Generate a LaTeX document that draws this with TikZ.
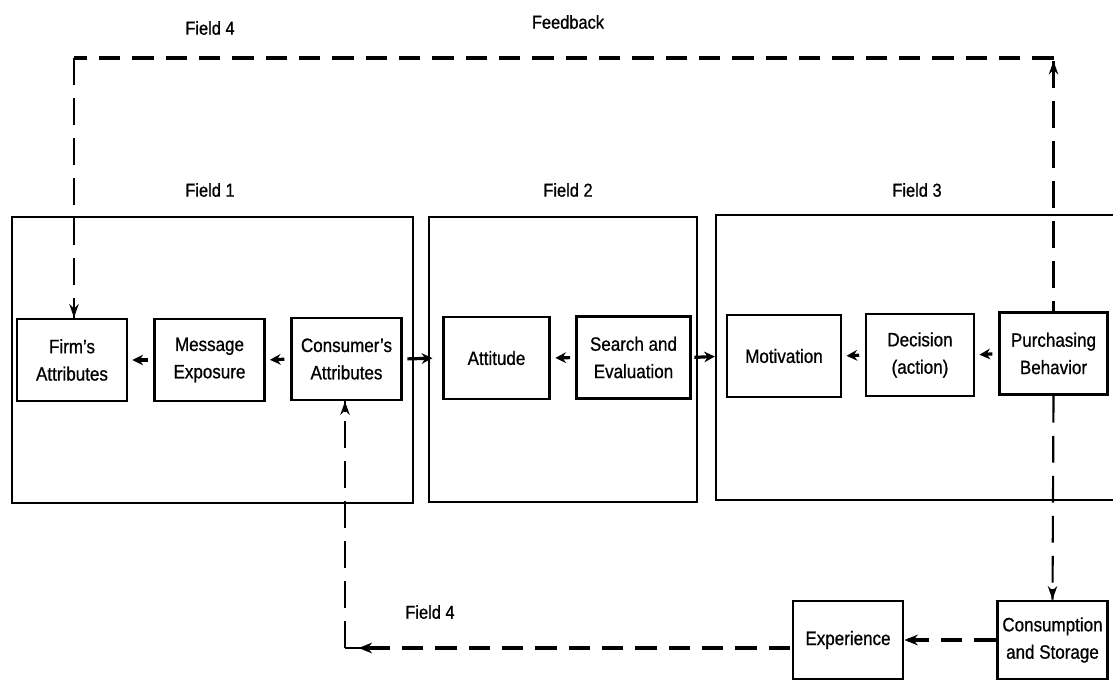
\documentclass[tikz,border=0pt]{standalone}
\usepackage{fontspec}
\setmainfont{Liberation Sans}[FakeStretch=0.88,FakeBold=0.8]
\usetikzlibrary{arrows.meta}
\begin{document}
\begin{tikzpicture}[x=0.75pt,y=-0.75pt,
  box/.style={draw, line width=2.2pt, align=center, inner sep=1pt,
    minimum width=82.5pt, minimum height=61.5pt,
    font=\fontsize{14.5}{20.5}\selectfont},
  lbl/.style={font=\fontsize{14}{16}\selectfont, inner sep=0pt},
  field/.style={draw, line width=1.5pt},
  thickdash/.style={line width=2.8pt, dash pattern=on 16pt off 9pt},
  thindash/.style={line width=1.6pt, dash pattern=on 20pt off 10pt},
  headthick/.style={line width=2.8pt, -{Stealth[length=10pt,width=8pt]}},
  headthin/.style={line width=1.6pt, -{Stealth[length=10pt,width=7pt]}},
  sarr/.style={line width=2.4pt, -{Stealth[length=8pt,width=8pt]}}]
\useasboundingbox (0,0) rectangle (1113,681);
\clip (0,0) rectangle (1113,681);
\fill[white] (0,0) rectangle (1113,681);

% field frames
\draw[field] (12,217) rectangle (413,503);
\draw[field] (429,217) rectangle (697,502);
\draw[field] (716,215) rectangle (1130,500);

% labels
\node[lbl] (f4top) at (210,28) {Field 4};
\node[lbl] (fb) at (568,22) {Feedback};
\node[lbl] (f1) at (210,190) {Field 1};
\node[lbl] (f2) at (568,190) {Field 2};
\node[lbl] (f3) at (917,190) {Field 3};
\node[lbl] (f4bot) at (430,612) {Field 4};

% boxes
\node[box] (firm) at (72,360) {Firm's\\Attributes};
\node[box] (msg) at (209.5,360) {Message\\Exposure};
\node[box, minimum width=83pt] (cons) at (346.5,359) {Consumer's\\Attributes};
\node[box, minimum width=80pt] (att) at (496.5,358) {Attitude};
\node[box, minimum width=85pt] (search) at (633.5,357.5) {Search and\\Evaluation};
\node[box, minimum width=85.5pt] (mot) at (784,356) {Motivation};
\node[box, minimum width=81pt] (dec) at (920,355) {Decision\\(action)};
\node[box, minimum width=81.5pt] (purch) at (1053.5,353.5) {Purchasing\\Behavior};
\node[box, minimum width=82.5pt, minimum height=58.5pt] (exp) at (848,640) {Experience};
\node[box, minimum width=83pt, minimum height=58.5pt] (cst) at (1052.5,640) {Consumption\\and Storage};

% short arrows
\draw[sarr, shorten <=4pt, shorten >=3pt] (msg.west) -- (firm.east);
\draw[sarr, shorten <=4pt, shorten >=3pt] (cons.west) -- (msg.east);
\draw[sarr, shorten <=3pt, shorten >=7pt] (cons.east) -- (att.west);
\draw[sarr, shorten <=4pt, shorten >=3pt] (search.west) -- (att.east);
\draw[sarr, shorten <=2pt, shorten >=8pt] (search.east) -- (mot.west);
\draw[sarr, shorten <=4pt, shorten >=3pt] (dec.west) -- (mot.east);
\draw[sarr, shorten <=4pt, shorten >=3pt] (purch.west) -- (dec.east);

% feedback loop
\coordinate (tr) at (1053.5,58);
\coordinate (tl) at (74,58);
\coordinate (bl) at (345,648);
\coordinate (bm) at (372,648);
\coordinate (er) at (790,648);
\coordinate (trh) at (1053.5,61);
% up from Purchasing Behavior
\draw[thindash] (trh) -- (purch.north);
\draw[headthin] ([yshift=-8pt]trh) -- (trh);
% top line
\draw[thickdash] (tr) -- (tl);
% down to Firm's Attributes
\draw[thindash] (tl) -- (tl |- firm.north);
\draw[headthin] ([yshift=8pt]tl |- firm.north) -- (tl |- firm.north);
% down to Consumption and Storage
\draw[thindash] (purch.south) -- (cst.north);
\draw[headthin] ([yshift=8pt]cst.north) -- (cst.north);
% Consumption -> Experience
\draw[thickdash] (cst.west) -- (exp.east);
\draw[headthick] ([xshift=14pt]exp.east) -- (exp.east);
% Experience -> back (Field 4)
\draw[thickdash] (er) -- (bm);
\draw[headthick] ([xshift=4pt]bm) -- ([xshift=-10pt]bm);
\draw[thindash] (bm) -- (bl);
\draw[thindash] (bl) -- (bl |- cons.south);
\draw[headthin] ([yshift=-8pt]bl |- cons.south) -- (bl |- cons.south);
\end{tikzpicture}
\end{document}
